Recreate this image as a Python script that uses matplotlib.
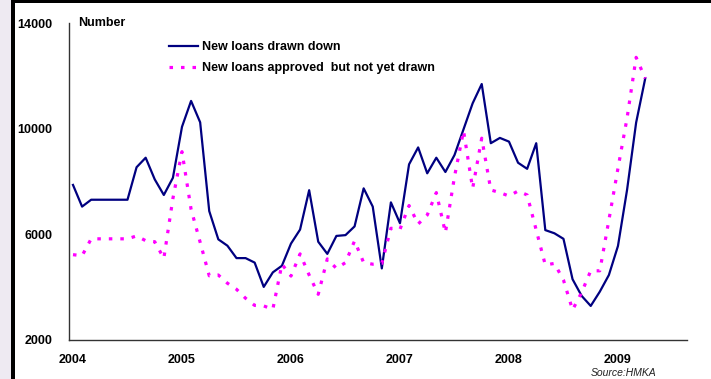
import numpy as np
import matplotlib
matplotlib.use('Agg')
import matplotlib.pyplot as plt
from matplotlib.patches import Rectangle

plt.rcParams['font.family'] = ['Liberation Sans', 'DejaVu Sans']

# === DATA (monthly, Jan 2004 - Apr 2009) ===
drawn_down = [
    7870, 7050, 7310, 7310, 7310, 7310, 7310, 8540, 8900, 8080, 7490, 8140,      # 2004
    10070, 11050, 10240, 6880, 5810, 5570, 5100, 5100, 4930, 4010, 4560, 4810,   # 2005
    5650, 6180, 7670, 5720, 5260, 5940, 5970, 6300, 7740, 7050, 4710, 7210,      # 2006
    6420, 8650, 9290, 8310, 8900, 8360, 9000, 9980, 10960, 11690, 9450, 9650,    # 2007
    9510, 8710, 8480, 9450, 6160, 6040, 5830, 4300, 3670, 3290, 3830, 4460,      # 2008
    5560, 7680, 10230, 11900,                                                    # 2009
]
approved_not_drawn = [
    5230, 5190, 5830, 5830, 5830, 5830, 5830, 5940, 5760, 5720, 5090, 7360,
    9130, 6950, 5700, 4430, 4460, 4150, 3920, 3580, 3310, 3290, 3160, 4870,
    4420, 5260, 4460, 3730, 5070, 4710, 4930, 5750, 4930, 4870, 4900, 6230,
    6190, 7090, 6390, 6730, 7580, 6060, 8180, 9920, 7740, 9640, 7680, 7580,
    7450, 7640, 7490, 6160, 4840, 4900, 4270, 3140, 3800, 4620, 4620, 6540,
    8500, 10400, 12700, 11900,
]
year_labels = ['2004', '2005', '2006', '2007', '2008', '2009']
y_ticks = [2000, 6000, 10000, 14000]

months = np.arange(len(drawn_down))

W, H = 711, 379
fig = plt.figure(figsize=(W / 100, H / 100), dpi=100)

# outer frame bits (light left strip + black edges)
fig.add_artist(Rectangle((0, 0), 11 / W, 1, transform=fig.transFigure,
                         facecolor='#eeeaf2', edgecolor='none', lw=0, zorder=0))
fig.add_artist(Rectangle((11 / W, 0), 4 / W, 1, transform=fig.transFigure,
                         facecolor='black', edgecolor='none', lw=0, zorder=1))
fig.add_artist(Rectangle((11 / W, 1 - 3 / H), 1, 3 / H, transform=fig.transFigure,
                         facecolor='black', edgecolor='none', lw=0, zorder=1))

ax = fig.add_axes([69 / W, 1 - 340 / H, (687 - 69) / W, (340 - 23) / H])
ax.set_facecolor('none')

ax.plot(months, drawn_down, color='#000080', lw=1.6, label='New loans drawn down')
ax.plot(months, approved_not_drawn, color='#ff00ff', lw=2.3, ls=(0, (1.1, 2.5)),
        label='New loans approved  but not yet drawn')

ax.set_xlim(-0.44, 67.6)
ax.set_ylim(2000, 14000)
ax.set_xticks(np.arange(0, 72, 12)[:len(year_labels)])
ax.set_xticklabels(year_labels)
ax.set_yticks(y_ticks)
ax.set_yticklabels([str(v) for v in y_ticks])
ax.tick_params(length=0, labelsize=9)
ax.tick_params(axis='y', pad=12)
ax.tick_params(axis='x', pad=10)
for lab in ax.get_xticklabels() + ax.get_yticklabels():
    lab.set_fontweight('bold')

for s in ['top', 'right']:
    ax.spines[s].set_visible(False)
for s in ['left', 'bottom']:
    ax.spines[s].set_color('#333333')
    ax.spines[s].set_linewidth(1.0)

leg = ax.legend(loc='upper left', bbox_to_anchor=(169 / W, 1 - 41 / H),
                bbox_transform=fig.transFigure, frameon=False, fontsize=9,
                handlelength=2.3, handletextpad=0.35, labelspacing=0.75,
                borderpad=0, borderaxespad=0)
for t in leg.get_texts():
    t.set_fontweight('bold')

fig.text(78 / W, 1 - 23 / H, 'Number', fontsize=9, fontweight='bold', va='center')
fig.text(591 / W, 1 - 373 / H, 'Source:HMKA', fontsize=7.5, style='italic',
         va='center', color='#222222')

plt.savefig('out.png', dpi=100)
